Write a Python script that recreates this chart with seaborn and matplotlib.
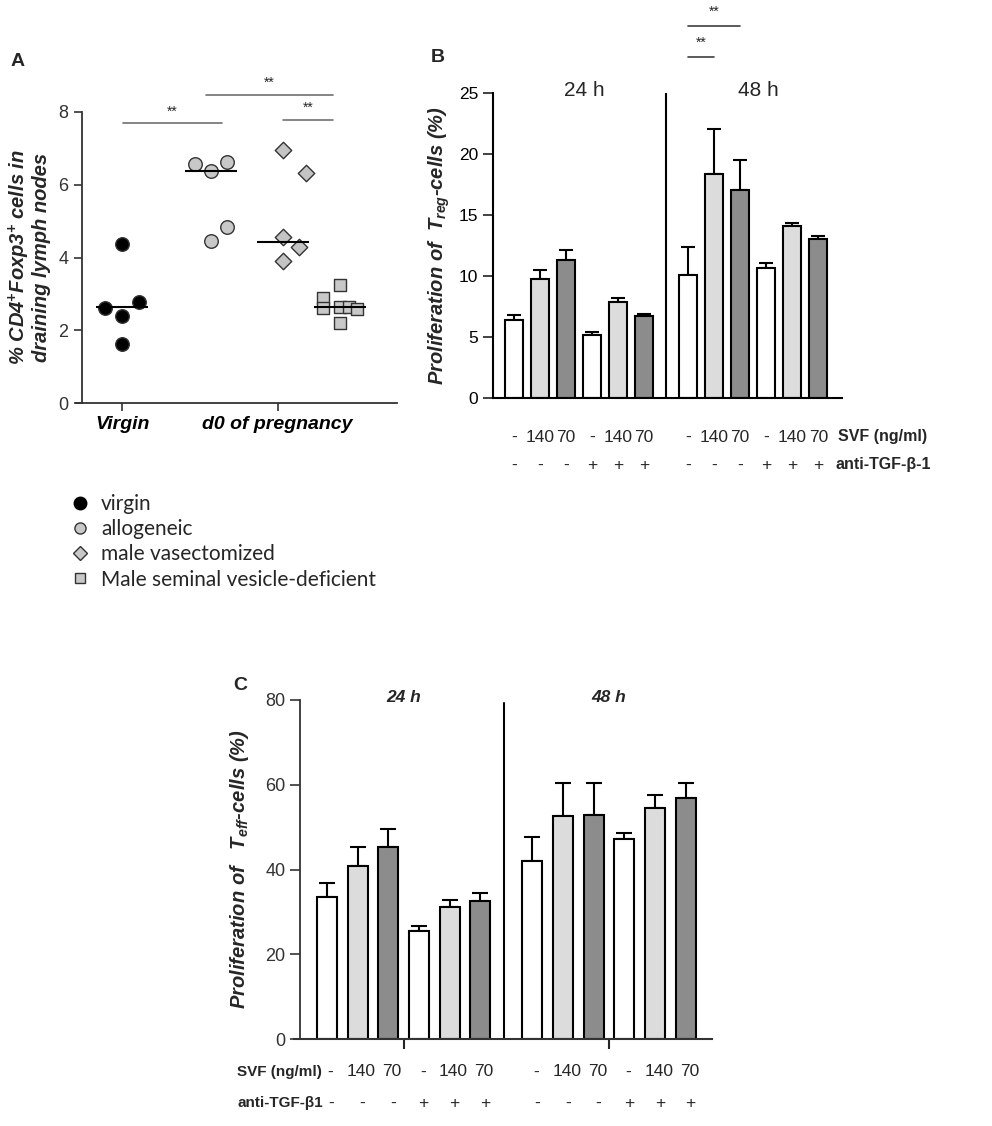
import numpy as np
import pandas as pd
import matplotlib
matplotlib.use('Agg')
import matplotlib.pyplot as plt
from matplotlib.lines import Line2D
import seaborn as sns

sns.set_style('white')
plt.rcParams['font.family'] = ['Liberation Sans', 'DejaVu Sans']
plt.rcParams['mathtext.fontset'] = 'custom'
plt.rcParams['mathtext.rm'] = 'Liberation Sans:bold:italic'
plt.rcParams['mathtext.it'] = 'Liberation Sans:bold:italic'
plt.rcParams['mathtext.bf'] = 'Liberation Sans:bold:italic'

# ---- panel A data (% CD4+Foxp3+ cells) ----
groups_a = ['virgin', 'allogeneic', 'male vasectomized', 'Male seminal vesicle-deficient']
virgin = [4.38, 2.62, 2.78, 2.40, 1.62]
allogeneic = [6.56, 6.37, 6.62, 4.46, 4.84]
vasectomized = [6.95, 6.33, 4.57, 4.28, 3.91]
svd = [3.24, 2.88, 2.60, 2.65, 2.63, 2.58, 2.19]
medians_a = [2.65, 6.37, 4.42, 2.65]

# ---- panel B data (Treg proliferation %) ----
svf_labels = ['-', '140', '70', '-', '140', '70']
tgf_labels = ['-', '-', '-', '+', '+', '+']
treg_24 = [6.37, 9.75, 11.34, 5.16, 7.84, 6.75]
treg_24_err = [0.41, 0.71, 0.76, 0.28, 0.33, 0.16]
treg_48 = [10.10, 18.33, 17.05, 10.68, 14.07, 13.00]
treg_48_err = [2.28, 3.69, 2.43, 0.39, 0.27, 0.30]

# ---- panel C data (Teff proliferation %) ----
teff_24 = [33.5, 40.9, 45.2, 25.5, 31.1, 32.5]
teff_24_err = [3.4, 4.4, 4.4, 1.1, 1.7, 2.0]
teff_48 = [42.1, 52.6, 52.9, 47.1, 54.4, 56.9]
teff_48_err = [5.6, 7.8, 7.5, 1.5, 3.1, 3.5]

fills = ['white', '#dcdcdc', '#8c8c8c']

fig = plt.figure(figsize=(9.92, 11.26), dpi=100)

# ================= panel A =================
axA = fig.add_axes([76/992, 1-403/1126, (397-76)/992, (403-112)/1126])
centers = [0.0, 0.57, 1.034, 1.40]
offsets = [[0, -0.11, 0.107, 0, 0],
           [-0.105, 0, 0.105, 0, 0.105],
           [0, 0.15, 0, 0.107, 0],
           [0, -0.107, -0.107, 0, 0.058, 0.112, 0]]
vals = [virgin, allogeneic, vasectomized, svd]
rows = []
for g, c, off, v in zip(groups_a, centers, offsets, vals):
    for o, y in zip(off, v):
        rows.append({'group': g, 'x': c + o, 'y': y})
dfa = pd.DataFrame(rows)
mk = {'virgin': 'o', 'allogeneic': 'o', 'male vasectomized': 'D',
      'Male seminal vesicle-deficient': 's'}
pal = {'virgin': 'black', 'allogeneic': '#c8c8c8', 'male vasectomized': '#c4c4c4',
       'Male seminal vesicle-deficient': '#c8c8c8'}
sizes = {'virgin': 95, 'allogeneic': 95, 'male vasectomized': 70,
         'Male seminal vesicle-deficient': 75}
for g in groups_a:
    sub = dfa[dfa['group'] == g]
    sns.scatterplot(data=sub, x='x', y='y', marker=mk[g], color=pal[g], s=sizes[g],
                    edgecolor='#333333', linewidth=1.0, legend=False, ax=axA, zorder=3)
for c, m in zip(centers, medians_a):
    axA.hlines(m, c - 0.167, c + 0.167, color='black', lw=1.5, zorder=4)

axA.set_xlim(-0.299, 1.77)
axA.set_ylim(0, 8)
axA.spines['left'].set_position(('data', -0.262))
axA.spines['top'].set_visible(False)
axA.spines['right'].set_visible(False)
for s in ['left', 'bottom']:
    axA.spines[s].set_color('#333333')
    axA.spines[s].set_linewidth(1.3)
axA.set_yticks([0, 2, 4, 6, 8])
axA.set_xticks([0, 1])
axA.set_xticklabels(['Virgin', 'd0 of pregnancy'], fontsize=14, fontweight='bold', style='italic')
axA.tick_params(axis='y', direction='out', length=6, width=1.2, labelsize=13, colors='#333333', left=True)
axA.tick_params(axis='x', direction='out', length=6, width=1.2, colors='#333333', bottom=True)
for lab in axA.get_xticklabels():
    lab.set_color('black')
axA.set_xlabel('')
axA.set_ylabel('% CD4$^{+}$Foxp3$^{+}$ cells in\ndraining lymph nodes', fontsize=14.5,
               fontweight='bold', style='italic', labelpad=5, linespacing=1.05)
sig_a = [(0.006, 0.641, 7.70), (0.538, 1.355, 8.48), (1.034, 1.355, 7.79)]
for x0, x1, y in sig_a:
    axA.plot([x0, x1], [y, y], color='#707070', lw=1.2, clip_on=False)
    axA.text((x0 + x1) / 2, y + 0.12, '**', ha='center', va='bottom', fontsize=10, clip_on=False)

fig.text(18/992, 1-62/1126, 'A', fontsize=14, fontweight='bold', ha='center', va='center')

handles = [
    Line2D([], [], marker='o', ls='', color='black', markersize=9, markeredgecolor='black'),
    Line2D([], [], marker='o', ls='', markerfacecolor='#c8c8c8', markeredgecolor='#333333', markersize=8),
    Line2D([], [], marker='D', ls='', markerfacecolor='#c8c8c8', markeredgecolor='#333333', markersize=7),
    Line2D([], [], marker='s', ls='', markerfacecolor='#c8c8c8', markeredgecolor='#333333', markersize=7),
]
fig.legend(handles, groups_a, loc='upper left', bbox_to_anchor=(70/992, 1-494/1126),
           frameon=False, prop={'family': 'Lato', 'size': 15}, handletextpad=0.5,
           handlelength=1.0, labelspacing=0.25, borderaxespad=0, borderpad=0)


def bar_panel(ax, v24, e24, v48, e48, gap, width, cap):
    pos = [i + (gap if i >= 6 else 0) for i in range(12)]
    df = pd.DataFrame({'pos': pos, 'val': v24 + v48,
                       'shade': [fills[i % 3] for i in range(12)]})
    sns.barplot(data=df, x='pos', y='val', hue='shade', palette={f: f for f in fills},
                native_scale=True, width=width, edgecolor='black', linewidth=1.5,
                legend=False, ax=ax, zorder=2)
    ax.errorbar(pos, v24 + v48, yerr=[[0] * 12, e24 + e48], fmt='none', ecolor='black',
                elinewidth=1.5, capsize=cap, capthick=1.5, zorder=1)
    return pos


# ================= panel B =================
axB = fig.add_axes([493/992, 1-398/1126, (842-493)/992, (398-93)/1126])
posB = bar_panel(axB, treg_24, treg_24_err, treg_48, treg_48_err, 0.69, 0.7, 5)
axB.set_xlim(-0.81, 12.6)
axB.set_ylim(0, 25)
axB.axvline((posB[5] + posB[6]) / 2, 0, 1, color='black', lw=1.5)
sns.despine(ax=axB)
for s in ['left', 'bottom']:
    axB.spines[s].set_color('black')
    axB.spines[s].set_linewidth(1.5)
axB.set_yticks([0, 5, 10, 15, 20, 25])
axB.set_xticks([])
axB.tick_params(axis='y', direction='out', length=7, width=1.3, labelsize=12.5, left=True, colors='#333333')
for lab in axB.get_yticklabels():
    lab.set_color('black')
axB.set_xlabel('')
axB.set_ylabel('Proliferation of  $T_{reg}$-cells (%)', fontsize=14.5, fontweight='bold',
               style='italic', labelpad=5)
axB.text(2.7, 25.2, '24 h', ha='center', va='center', fontsize=15)
axB.text(9.4, 25.2, '48 h', ha='center', va='center', fontsize=15)
for p, s1, s2 in zip(posB, svf_labels * 2, tgf_labels * 2):
    axB.text(p, -0.128, s1, transform=axB.get_xaxis_transform(), ha='center', va='center', fontsize=12.5)
    axB.text(p, -0.22, s2, transform=axB.get_xaxis_transform(), ha='center', va='center', fontsize=12.5)
fig.text(838/992, 1-437/1126, 'SVF (ng/ml)', fontsize=11.5, fontweight='bold', ha='left', va='center')
fig.text(835/992, 1-465/1126, 'anti-TGF-β-1', fontsize=11.5, fontweight='bold', ha='left', va='center')
sig_b = [(posB[6], posB[8], 30.5), (posB[6], posB[7], 27.95)]
for x0, x1, y in sig_b:
    axB.plot([x0, x1], [y, y], color='#404040', lw=1.2, clip_on=False)
    axB.text((x0 + x1) / 2, y + 0.6, '**', ha='center', va='bottom', fontsize=10, clip_on=False)
fig.text(438/992, 1-58/1126, 'B', fontsize=14, fontweight='bold', ha='center', va='center')

# ================= panel C =================
axC = fig.add_axes([294/992, 1-1039/1126, (712-294)/992, (1039-700)/1126])
posC = bar_panel(axC, teff_24, teff_24_err, teff_48, teff_48_err, 0.69, 0.65, 6)
axC.set_xlim(-1.07, 12.54)
axC.set_ylim(0, 80)
axC.spines['left'].set_position(('data', -0.88))
axC.axvline((posC[5] + posC[6]) / 2 - 0.07, 0, 79.4 / 80, color='black', lw=1.5)
sns.despine(ax=axC)
axC.spines['left'].set_color('#333333')
axC.spines['bottom'].set_color('#333333')
axC.spines['left'].set_linewidth(1.3)
axC.spines['bottom'].set_linewidth(1.5)
axC.set_yticks([0, 20, 40, 60, 80])
axC.set_xticks([np.mean(posC[:6]), np.mean(posC[6:])])
axC.set_xticklabels([])
axC.tick_params(axis='y', direction='out', length=7, width=1.2, labelsize=13, left=True, colors='#333333')
axC.tick_params(axis='x', direction='out', length=7, width=1.5, bottom=True)
axC.set_xlabel('')
axC.set_ylabel('Proliferation of   $T_{eff}$-cells (%)', fontsize=14.5, fontweight='bold',
               style='italic', labelpad=10)
axC.text(np.mean(posC[:6]), 80.7, '24 h', ha='center', va='center', fontsize=12.5,
         fontweight='bold', style='italic')
axC.text(np.mean(posC[6:]), 80.7, '48 h', ha='center', va='center', fontsize=12.5,
         fontweight='bold', style='italic')
for p, s1, s2 in zip(posC, svf_labels * 2, tgf_labels * 2):
    axC.text(p + 0.12, -0.097, s1, transform=axC.get_xaxis_transform(), ha='center', va='center', fontsize=12.5)
    axC.text(p + 0.15, -0.189, s2, transform=axC.get_xaxis_transform(), ha='center', va='center', fontsize=12.5)
fig.text(237/992, 1-1072/1126, 'SVF (ng/ml)', fontsize=11, fontweight='bold', ha='left', va='center')
fig.text(237/992, 1-1103/1126, 'anti-TGF-β1', fontsize=11, fontweight='bold', ha='left', va='center')
fig.text(240/992, 1-685/1126, 'C', fontsize=14, fontweight='bold', ha='center', va='center')

fig.savefig('out.png', dpi=100, facecolor='white')
